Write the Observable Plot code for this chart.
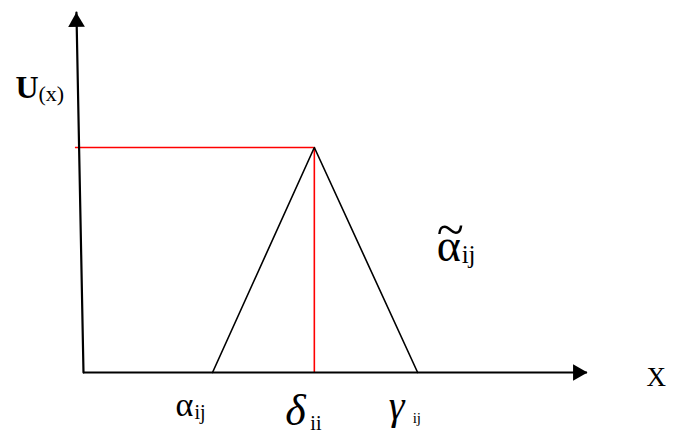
<!DOCTYPE html>
<html><head><meta charset="utf-8">
<script src="https://cdn.jsdelivr.net/npm/d3@7"></script>
<script src="https://cdn.jsdelivr.net/npm/@observablehq/plot@0.6"></script>
<style>body{margin:0;background:#fff}</style>
</head><body><div id="chart"></div>
<script>
// Triangular fuzzy number: alpha_ij (left), delta_ii (peak), gamma_ij (right)
const triangleX = [2.56, 4.58, 6.63];
const triangleU = [0, 1, 0];
const peakU = 1;
const axisXMax = 10;
const axisUMax = 1.6;
const axisLean = -0.14;   // the hand-drawn vertical axis leans slightly left
const redStart = -0.16;
const pointNames = ["α", "δ", "γ"];
const pointSubs = ["ij", "ii", "ij"];
const fuzzyName = "α";
const fuzzySub = "ij";
const yLabel = "U";
const yLabelArg = "(x)";
const xLabel = "X";

const [a, d, g] = triangleX;
const tri = triangleX.map((x, i) => ({x, u: triangleU[i]}));
const yAxisPts = [{x: 0, u: 0}, {x: axisLean, u: axisUMax}];
const serif = "Liberation Serif";
const T = (x, u, text, o) => Plot.text([{x, u, text}], {x: "x", y: "u", text: "text", textAnchor: "start", lineAnchor: "bottom", fontFamily: serif, fill: "black", ...o});

const chart = Plot.plot({
  width: 679, height: 434,
  margin: 0,
  x: {domain: [0, axisXMax], range: [83, 587], axis: null},
  y: {domain: [0, axisUMax], range: [372, 12], axis: null},
  style: {background: "white"},
  marks: [
    // red guides
    Plot.ruleY([peakU], {x1: redStart, x2: d, stroke: "#ff0000", strokeWidth: 1.6}),
    Plot.ruleX([d], {y1: 0, y2: peakU, stroke: "#ff0000", strokeWidth: 1.6}),
    // triangle
    Plot.line(tri, {x: "x", y: "u", stroke: "black", strokeWidth: 1.6}),
    // axes
    Plot.line(yAxisPts, {x: "x", y: "u", stroke: "black", strokeWidth: 2.2}),
    Plot.ruleY([0], {x1: 0, x2: axisXMax, stroke: "black", strokeWidth: 2.2}),
    Plot.dot([{x: axisLean, u: axisUMax}], {x: "x", y: "u", symbol: "triangle", r: 6.2, fill: "black", stroke: null, dy: 9.6, rotate: -1.1}),
    Plot.dot([{x: axisXMax, u: 0}], {x: "x", y: "u", symbol: "triangle", r: 6.2, fill: "black", stroke: null, dx: -9.6, rotate: 90}),
    // point labels
    T(a, 0, pointNames[0], {dx: -37, dy: 43, fontSize: 34}),
    T(a, 0, pointSubs[0], {dx: -18, dy: 46, fontSize: 20}),
    T(d, 0, pointNames[1], {dx: -29, dy: 52, fontSize: 44, fontStyle: "italic"}),
    T(d, 0, pointSubs[1], {dx: -4, dy: 57, fontSize: 20}),
    T(g, 0, pointNames[2], {dx: -29, dy: 46, fontSize: 40, fontStyle: "italic"}),
    T(g, 0, pointSubs[2], {dx: -5, dy: 50, fontSize: 15}),
    // fuzzy number label
    T(g, peakU / 2, "~", {dx: 19, dy: -14, fontSize: 50}),
    T(g, peakU / 2, fuzzyName, {dx: 19, dy: 1, fontSize: 46}),
    T(g, peakU / 2, fuzzySub, {dx: 44, dy: 3, fontSize: 25}),
    // axis labels
    T(0, peakU, yLabel, {dx: -68, dy: -50, fontSize: 32, fontWeight: "bold"}),
    T(0, peakU, yLabelArg, {dx: -45, dy: -47, fontSize: 22}),
    T(axisXMax, 0, xLabel, {dx: 59, dy: 13, fontSize: 27})
  ]
});
document.getElementById("chart").append(chart);
</script>
</body></html>
